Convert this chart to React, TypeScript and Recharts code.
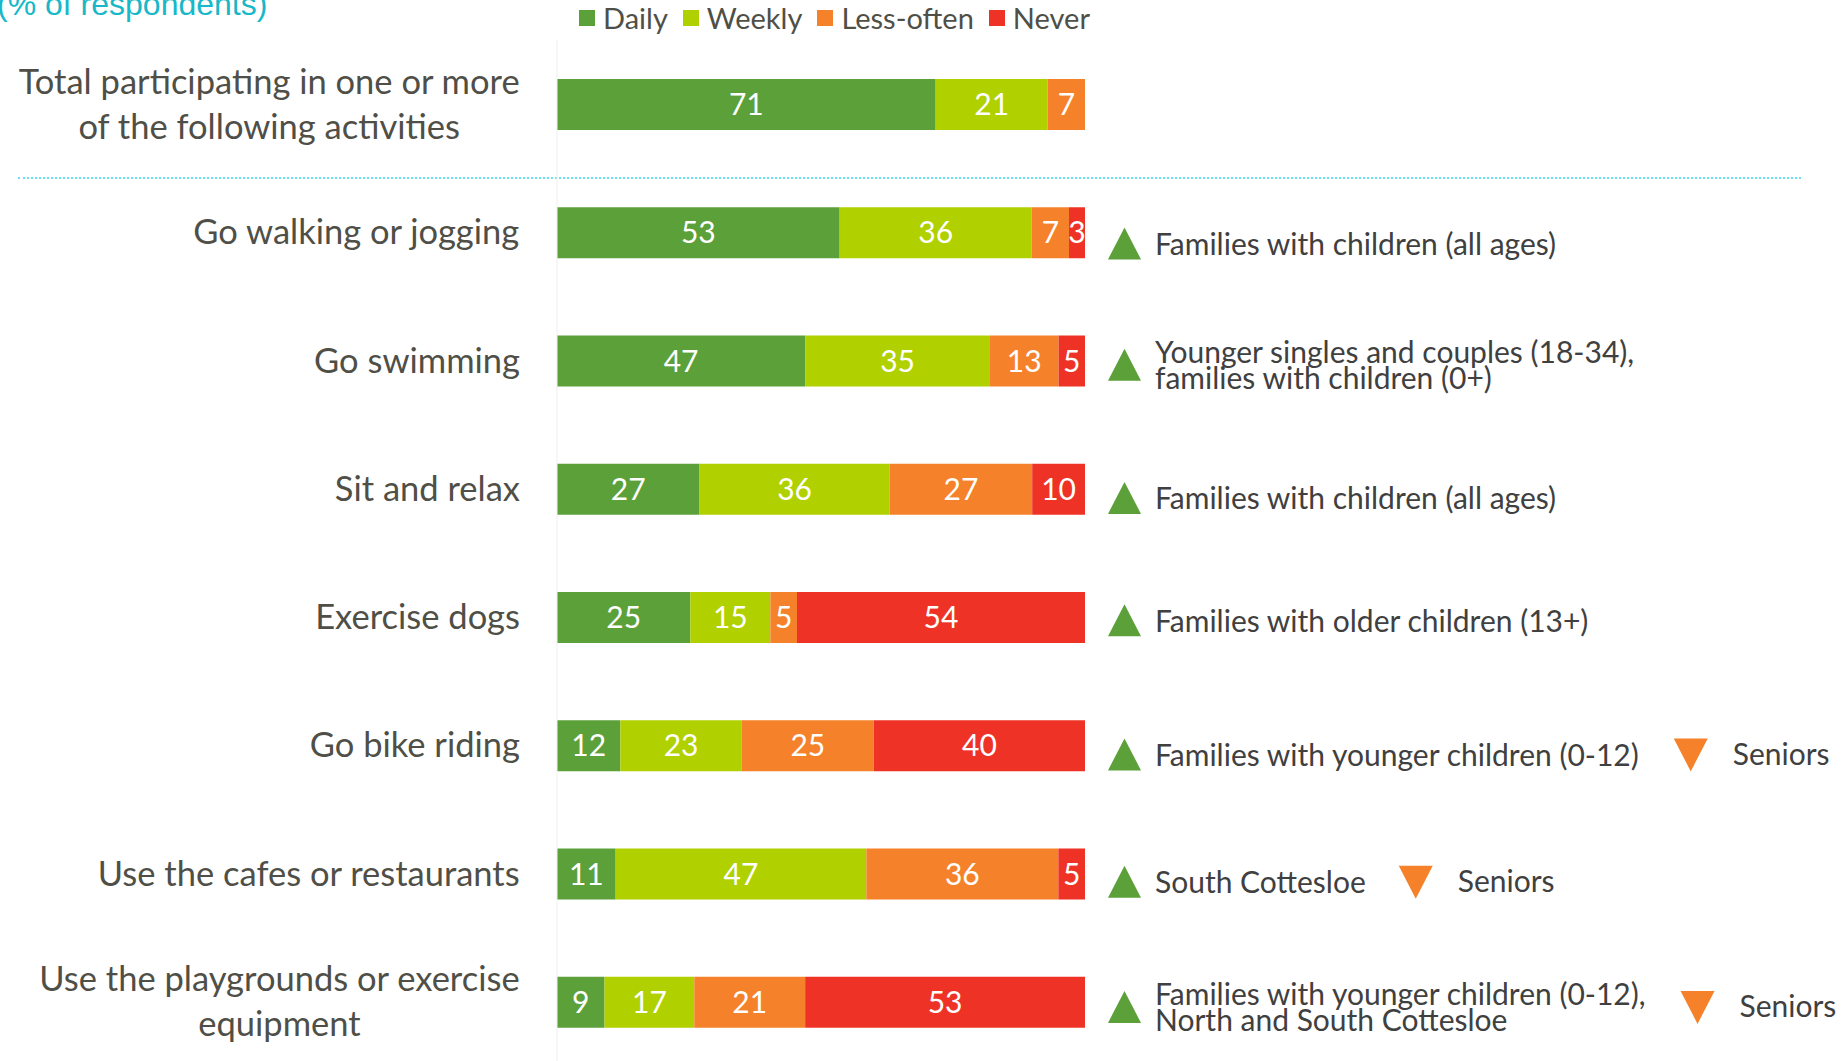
import React from "react";
import { BarChart, Bar, XAxis, YAxis, Legend, LabelList } from "recharts";

// activities, top to bottom ("\n" marks the line break in the label)
const categories = [
  "Total participating in one or more\nof the following activities",
  "Go walking or jogging",
  "Go swimming",
  "Sit and relax",
  "Exercise dogs",
  "Go bike riding",
  "Use the cafes or restaurants",
  "Use the playgrounds or exercise\nequipment",
];

const daily = [71, 53, 47, 27, 25, 12, 11, 9];
const weekly = [21, 36, 35, 36, 15, 23, 47, 17];
const lessOften = [7, 7, 13, 27, 5, 25, 36, 21];
const never = [0, 3, 5, 10, 54, 40, 5, 53];

// groups significantly higher / lower than average
const higherGroups = [
  "",
  "Families with children (all ages)",
  "Younger singles and couples (18-34),\nfamilies with children (0+)",
  "Families with children (all ages)",
  "Families with older children (13+)",
  "Families with younger children (0-12)",
  "South Cottesloe",
  "Families with younger children (0-12),\nNorth and South Cottesloe",
];
const lowerGroups = ["", "", "", "", "", "Seniors", "Seniors", "Seniors"];

const seriesKeys = ["daily", "weekly", "lessOften", "never"];
const seriesNames = ["Daily", "Weekly", "Less-often", "Never"];
const colors = ["#5ca03a", "#b0d000", "#f5822a", "#ee3326"];

// small vertical nudges of the annotation column, per row (px)
const annotationDy = [0, 11, 4, 9, 3, 9, 8, 5];

const data = categories.map((name, i) => ({
  name,
  daily: daily[i],
  weekly: weekly[i],
  lessOften: lessOften[i],
  never: never[i],
}));

const FONT = "Lato, 'Open Sans', sans-serif";
const LABEL_COLOR = "#4f4f47";
const CAT_SIZE = 34.5;
const NOTE_SIZE = 30;

let ctx: CanvasRenderingContext2D | null = null;
function textWidth(s: string, size: number) {
  if (!ctx) ctx = document.createElement("canvas").getContext("2d");
  if (!ctx) return s.length * size * 0.5;
  ctx.font = `${size}px Lato`;
  return ctx.measureText(s).width;
}

const CategoryTick = (props: any) => {
  const { x, y, payload } = props;
  const lines = String(payload.value).split("\n");
  const w = Math.max(...lines.map((l) => textWidth(l, CAT_SIZE)));
  const cx = x - w / 2;
  return (
    <g>
      {lines.map((l, i) => (
        <text
          key={i}
          x={cx}
          y={y + (i - (lines.length - 1) / 2) * 45}
          dy="0.35em"
          textAnchor="middle"
          fontSize={CAT_SIZE}
          fill={LABEL_COLOR}
          fontFamily={FONT}
        >
          {l}
        </text>
      ))}
    </g>
  );
};

const AnnotationTick = (props: any) => {
  const { x, y, index } = props;
  const up = higherGroups[index];
  const down = lowerGroups[index];
  if (!up) return null;
  const cy = y + annotationDy[index];
  const lines = up.split("\n");
  const tx = x + 47;
  const w = Math.max(...lines.map((l) => textWidth(l, NOTE_SIZE)));
  const dx = tx + w + 33;
  return (
    <g fontFamily={FONT} fontSize={NOTE_SIZE} fill="#404040">
      <polygon
        points={`${x},${cy + 16} ${x + 33},${cy + 16} ${x + 16.5},${cy - 16}`}
        fill={colors[0]}
      />
      {lines.map((l, i) => (
        <text key={i} x={tx} y={cy + 1 + (i - (lines.length - 1) / 2) * 26} dy="0.35em">
          {l}
        </text>
      ))}
      {down && (
        <g>
          <polygon
            points={`${dx},${cy - 16} ${dx + 34},${cy - 16} ${dx + 17},${cy + 17}`}
            fill={colors[2]}
          />
          <text x={dx + 59} y={cy} dy="0.35em">
            {down}
          </text>
        </g>
      )}
    </g>
  );
};

const renderLegend = (props: any) => {
  const items = [...(props.payload || [])].sort(
    (a: any, b: any) => seriesNames.indexOf(a.value) - seriesNames.indexOf(b.value)
  );
  return (
    <div style={{ display: "flex", fontFamily: FONT, fontSize: 29, color: LABEL_COLOR, lineHeight: "34px" }}>
      {items.map((p: any) => (
        <span key={p.value} style={{ display: "flex", alignItems: "center", marginRight: 15 }}>
          <span style={{ width: 16, height: 16, background: p.color, marginRight: 8 }} />
          {p.value}
        </span>
      ))}
    </div>
  );
};

export default function App() {
  return (
    <div
      style={{
        position: "absolute",
        left: 0,
        top: 0,
        width: 1846,
        height: 1061,
        overflow: "hidden",
        background: "#fff",
      }}
    >
      <div
        style={{
          position: "absolute",
          left: -3,
          top: -14,
          fontFamily: "'Liberation Sans', Arial, sans-serif",
          fontSize: 32,
          lineHeight: "36px",
          color: "#17b8c8",
          whiteSpace: "nowrap",
        }}
      >
        (% of respondents)
      </div>
      <div
        style={{
          position: "absolute",
          left: 18,
          top: 177,
          width: 1783,
          borderTop: "2px dotted #66e2f0",
        }}
      />
      <BarChart
        width={1846}
        height={1070}
        data={data}
        layout="vertical"
        stackOffset="expand"
        barSize={51}
        margin={{ top: 40, right: 0, bottom: 4, left: 0 }}
      >
        <XAxis type="number" hide />
        <YAxis
          yAxisId="left"
          type="category"
          dataKey="name"
          width={557}
          interval={0}
          tickSize={0}
          tickMargin={37}
          tickLine={false}
          axisLine={{ stroke: "#efefef" }}
          tick={CategoryTick}
        />
        <YAxis
          yAxisId="right"
          orientation="right"
          type="category"
          dataKey="name"
          width={761}
          interval={0}
          tickSize={0}
          tickMargin={23}
          tickLine={false}
          axisLine={false}
          tick={AnnotationTick}
        />
        <Legend
          layout="horizontal"
          verticalAlign="middle"
          align="center"
          wrapperStyle={{ top: 1, left: 579, width: 600 }}
          content={renderLegend}
        />
        {seriesKeys.map((k, i) => (
          <Bar
            key={k}
            yAxisId="left"
            dataKey={k}
            name={seriesNames[i]}
            stackId="a"
            fill={colors[i]}
            isAnimationActive={false}
          >
            <LabelList
              dataKey={k}
              position="center"
              fill="#ffffff"
              fontSize={30}
              fontFamily={FONT}
              formatter={(v: any) => (v ? v : "")}
            />
          </Bar>
        ))}
      </BarChart>
    </div>
  );
}
